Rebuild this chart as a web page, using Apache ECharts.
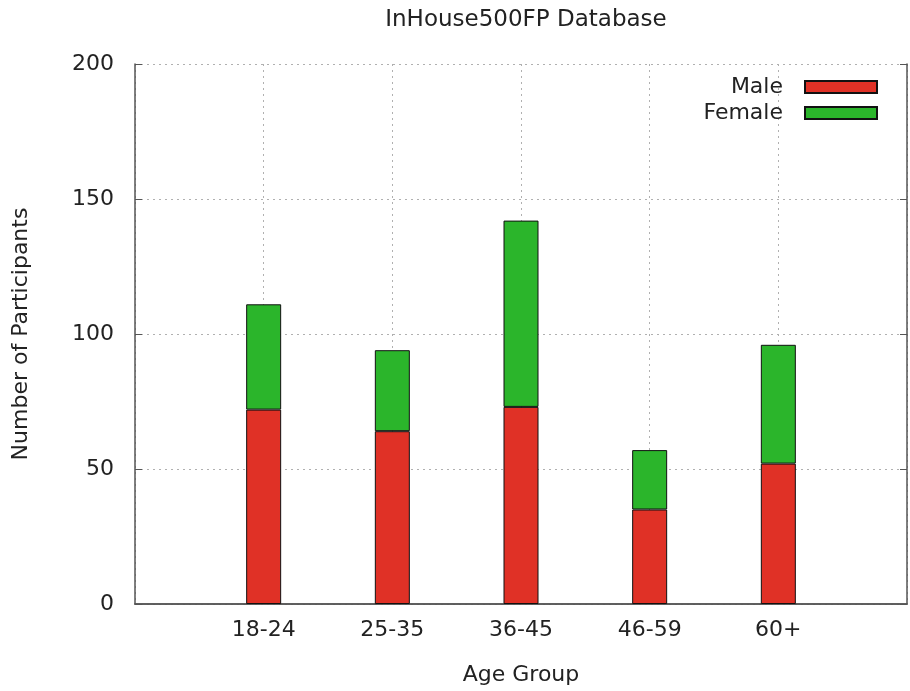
<!DOCTYPE html>
<html>
<head>
<meta charset="utf-8">
<script src="https://cdn.jsdelivr.net/npm/echarts@6/dist/echarts.min.js"></script>
<style>
	html, body { margin: 0; padding: 0; background: #fff; }
	#main { width: 910px; height: 691px; }
</style>
</head>
<body>
<div id="main"></div>
<script>
// empty slots at both ends leave the gap gnuplot draws around the bars
var categories = [ '', '18-24', '25-35', '36-45', '46-59', '60+', '' ];
var male = [ null, 72, 64, 73, 35, 52, null ];
var female = [ null, 39, 30, 69, 22, 44, null ];
var yTicks = [ 0, 50, 100, 150, 200 ];

var font = 'DejaVu Sans';
var fontSize = 22;
var boxColor = '#555';
var gridStyle = { color: '#b0b0b0', type: [ 2, 4 ], width: 1 };

var chart = echarts.init( document.getElementById( 'main' ) );

var option = {
	backgroundColor: '#fff',
	animation: false,
	textStyle: { fontFamily: font, color: '#222' },
	title: {
		text: 'InHouse500FP Database',
		left: 521,
		textAlign: 'center',
		top: 4,
		textStyle: { fontFamily: font, fontSize: 23, fontWeight: 'normal', color: '#222' }
	},
	legend: {
		orient: 'vertical',
		right: 27,
		top: 71,
		align: 'right',
		itemWidth: 72,
		itemHeight: 12,
		itemGap: 4,
		icon: 'rect',
		textStyle: { fontFamily: font, fontSize: fontSize, color: '#222', padding: [ 0, 17, 0, 0 ] },
		data: [ 'Male', 'Female' ]
	},
	grid: { left: 135, right: 1, top: 64, bottom: 83 },
	xAxis: [
		{
			type: 'category',
			data: categories,
			boundaryGap: false,
			name: 'Age Group',
			nameLocation: 'middle',
			nameGap: 60,
			nameTextStyle: { fontFamily: font, fontSize: fontSize, color: '#222' },
			axisLine: { lineStyle: { color: boxColor, width: 1.5 } },
			axisTick: { show: false },
			axisLabel: { fontFamily: font, fontSize: fontSize, color: '#222', margin: 15 },
			splitLine: { show: true, lineStyle: gridStyle }
		},
		{
			type: 'category',
			data: categories,
			boundaryGap: false,
			position: 'top',
			axisLine: { lineStyle: { color: boxColor, width: 1.5 } },
			axisTick: { show: false },
			axisLabel: { show: false }
		}
	],
	yAxis: [
		{
			type: 'value',
			min: yTicks[0],
			max: yTicks[ yTicks.length - 1 ],
			interval: 50,
			name: 'Number of Participants',
			nameLocation: 'middle',
			nameGap: 103,
			nameTextStyle: { fontFamily: font, fontSize: fontSize, color: '#222' },
			axisLine: { show: true, lineStyle: { color: boxColor, width: 1.5 } },
			axisTick: { show: true, inside: true, length: 7, lineStyle: { color: boxColor } },
			axisLabel: { fontFamily: font, fontSize: fontSize, color: '#222', margin: 21 },
			splitLine: { show: true, lineStyle: gridStyle }
		},
		{
			type: 'value',
			min: yTicks[0],
			max: yTicks[ yTicks.length - 1 ],
			interval: 50,
			position: 'right',
			axisLine: { show: true, lineStyle: { color: boxColor, width: 1.5 } },
			axisTick: { show: true, inside: true, length: 7, lineStyle: { color: boxColor } },
			axisLabel: { show: false },
			splitLine: { show: false }
		}
	],
	series: [
		{
			name: 'Male',
			type: 'bar',
			stack: 'total',
			barWidth: 35,
			data: male,
			itemStyle: { color: '#e03126', borderColor: '#111', borderWidth: 1 }
		},
		{
			name: 'Female',
			type: 'bar',
			stack: 'total',
			barWidth: 35,
			data: female,
			itemStyle: { color: '#2bb52b', borderColor: '#111', borderWidth: 1 }
		}
	]
};

chart.setOption( option );
</script>
</body>
</html>
